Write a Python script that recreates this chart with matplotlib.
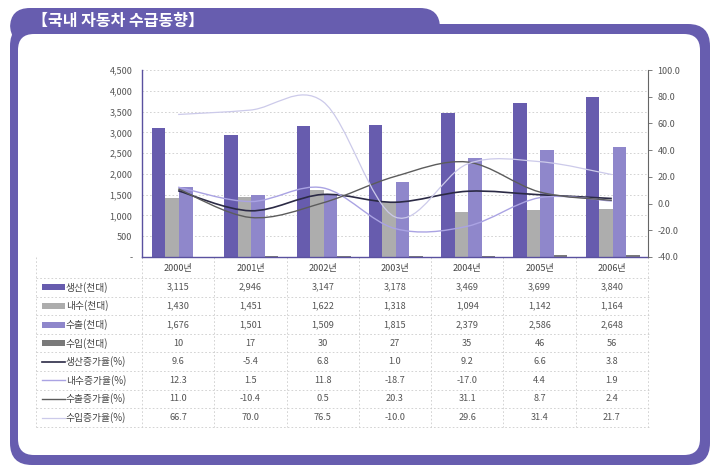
import numpy as np
import matplotlib
matplotlib.use("Agg")
import matplotlib.pyplot as plt
import matplotlib.transforms as mtransforms
from matplotlib.patches import FancyBboxPatch, Rectangle, PathPatch
from matplotlib.path import Path

plt.rcParams['font.family'] = ['Noto Sans CJK KR', 'DejaVu Sans']

years = ['2000년', '2001년', '2002년', '2003년', '2004년', '2005년', '2006년']
production = [3115, 2946, 3147, 3178, 3469, 3699, 3840]
domestic = [1430, 1451, 1622, 1318, 1094, 1142, 1164]
export = [1676, 1501, 1509, 1815, 2379, 2586, 2648]
imports = [10, 17, 30, 27, 35, 46, 56]
prod_growth = [9.6, -5.4, 6.8, 1.0, 9.2, 6.6, 3.8]
dom_growth = [12.3, 1.5, 11.8, -18.7, -17.0, 4.4, 1.9]
exp_growth = [11.0, -10.4, 0.5, 20.3, 31.1, 8.7, 2.4]
imp_growth = [66.7, 70.0, 76.5, -10.0, 29.6, 31.4, 21.7]

bar_labels = ['생산(천대)', '내수(천대)', '수출(천대)', '수입(천대)']
line_labels = ['생산증가율(%)', '내수증가율(%)', '수출증가율(%)', '수입증가율(%)']

PURPLE = '#675daf'
bar_colors = ['#675cae', '#adadad', '#8f87cb', '#7a7a7a']
line_styles = [('#2b2a45', 1.2), ('#aaa3e3', 1.0), ('#5c5c5c', 1.0), ('#cccaea', 0.9)]
TXT = '#555555'

fig = plt.figure(figsize=(7.22, 4.76), dpi=100)

# background axes in pixel units for the frame and the table
bg = fig.add_axes([0, 0, 1, 1], zorder=0)
bg.set_xlim(0, 722)
bg.set_ylim(476, 0)
bg.axis('off')

bg.add_patch(FancyBboxPatch((10, 24), 700, 441, boxstyle='round,pad=0,rounding_size=22',
                            fc=PURPLE, ec='none'))
bg.add_patch(FancyBboxPatch((10, 8), 430, 36, boxstyle='round,pad=0,rounding_size=20',
                            fc=PURPLE, ec='none'))
bg.add_patch(FancyBboxPatch((18, 34), 682, 421, boxstyle='round,pad=0,rounding_size=16',
                            fc='white', ec='none'))
bg.text(32, 21, '【국내 자동차 수급동향】', color='white', fontsize=11.5,
        fontweight='bold', va='center', ha='left')

# main chart
ax = fig.add_axes([142 / 722, 1 - 257 / 476, 506 / 722, 187 / 476], zorder=2)
ax.set_facecolor('none')
x = np.arange(len(years))
width = 0.187
for k, (vals, col) in enumerate(zip([production, domestic, export, imports], bar_colors)):
    ax.bar(x + (k - 1.5) * width + 0.012, vals, width, color=col, edgecolor='none', zorder=2)

ax.set_xlim(-0.5, len(years) - 0.5)
ax.set_ylim(0, 4500)
ax.set_yticks(np.arange(0, 4501, 500))
ax.set_yticklabels(['-' if v == 0 else f'{v:,}' for v in range(0, 4501, 500)])
ax.set_xticks([])
ax.yaxis.grid(True, color='#cccccc', linestyle=(0, (2, 2.5)), linewidth=0.6)
ax.set_axisbelow(True)
ax.tick_params(axis='y', length=0, pad=7, labelsize=6.5, labelcolor=TXT)
for s in ['top', 'right']:
    ax.spines[s].set_visible(False)
ax.spines['left'].set_color('#5a519f')
ax.spines['bottom'].set_color('#5a519f')
ax.spines['left'].set_linewidth(1.0)
ax.spines['bottom'].set_linewidth(1.0)

ax2 = ax.twinx()
ax2.set_ylim(-40, 100)
ax2.set_yticks(np.arange(-40, 101, 20))
ax2.set_yticklabels([f'{v:.1f}' for v in range(-40, 101, 20)])
ax2.tick_params(axis='y', length=3, width=0.6, color='#666666', pad=4, labelsize=6.5, labelcolor=TXT)
for s in ['top', 'left', 'bottom']:
    ax2.spines[s].set_visible(False)
ax2.spines['right'].set_color('#666666')
ax2.spines['right'].set_linewidth(0.8)


def smooth_path(xs, ys):
    pts = np.column_stack([xs, ys]).astype(float)
    n = len(pts)
    verts = [pts[0]]
    codes = [Path.MOVETO]
    for i in range(n - 1):
        p0 = pts[max(i - 1, 0)]
        p1 = pts[i]
        p2 = pts[i + 1]
        p3 = pts[min(i + 2, n - 1)]
        verts += [p1 + (p2 - p0) / 6, p2 - (p3 - p1) / 6, p2]
        codes += [Path.CURVE4] * 3
    return Path(verts, codes)


growth = [prod_growth, dom_growth, exp_growth, imp_growth]
for vals, (col, lw) in zip(growth, line_styles):
    ax2.add_patch(PathPatch(smooth_path(x, vals), fc='none', ec=col, lw=lw, zorder=3))

# table below the chart
tr = mtransforms.blended_transform_factory(ax.transData, bg.transData)
table_left, table_right = 36, 650
header_y = 269
row0, row_h = 278, 18.6
n_rows = 8

for i, yr in enumerate(years):
    bg.text(i, header_y, yr, transform=tr, ha='center', va='center', fontsize=6.5, color='#444444')

line_ys = [row0 + r * row_h for r in range(n_rows + 1)]
for yy in line_ys:
    bg.plot([table_left, table_right], [yy, yy], color='#cccccc', lw=0.6, ls=(0, (2, 2.5)))
for b in np.arange(-0.5, len(years), 1.0):
    bg.plot([b, b], [257, line_ys[-1]], transform=tr, color='#cccccc', lw=0.6, ls=(0, (2, 2.5)))
bg.plot([table_left, table_left], [257, line_ys[-1]], color='#cccccc', lw=0.6, ls=(0, (2, 2.5)))

rows = [production, domestic, export, imports] + growth
labels = bar_labels + line_labels
for r, (vals, lab) in enumerate(zip(rows, labels)):
    yc = row0 + (r + 0.5) * row_h
    if r < 4:
        bg.add_patch(Rectangle((42, yc - 3), 23, 6, fc=bar_colors[r], ec='none'))
        texts = [f'{v:,}' for v in vals]
    else:
        col, lw = line_styles[r - 4]
        bg.plot([42, 65], [yc, yc], color=col, lw=lw)
        texts = [f'{v:.1f}' for v in vals]
    bg.text(66, yc, lab, ha='left', va='center', fontsize=7, color='#444444')
    for i, t in enumerate(texts):
        bg.text(i, yc, t, transform=tr, ha='center', va='center', fontsize=6.6, color=TXT)

fig.savefig('out.png', dpi=100)
